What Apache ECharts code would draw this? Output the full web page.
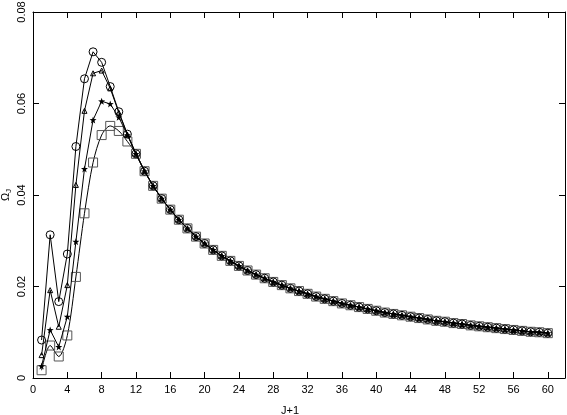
<!DOCTYPE html>
<html><head><meta charset="utf-8">
<script src="https://cdn.jsdelivr.net/npm/echarts@6/dist/echarts.min.js"></script>
<style>html,body{margin:0;padding:0;background:#fff}#c{width:567px;height:415px}</style>
</head><body><div id="c"></div>
<script>
// J+1 values 1..60
const xs = [];
for (let j = 1; j <= 60; j++) xs.push(j);
// leading part (J+1 = 1..11), read per series
const headCircle   = [0.0083, 0.0313, 0.0167, 0.0271, 0.0506, 0.0654, 0.0713, 0.0690, 0.0637, 0.0582, 0.0533];
const headTriangle = [0.0050, 0.0192, 0.0112, 0.0203, 0.0422, 0.0584, 0.0666, 0.0672, 0.0633, 0.0580, 0.0532];
const headStar     = [0.0026, 0.0105, 0.0068, 0.0134, 0.0298, 0.0457, 0.0564, 0.0605, 0.0599, 0.0570, 0.0531];
const headSquare   = [0.0017, 0.0071, 0.0047, 0.0093, 0.0221, 0.0360, 0.0471, 0.0531, 0.0551, 0.0540, 0.0517];
// common tail (J+1 = 12..60), all series coincide
const tail = [0.0490, 0.0452, 0.0420, 0.0392, 0.0368, 0.0346, 0.0327, 0.0309, 0.0294, 0.0280,
              0.0267, 0.0256, 0.0245, 0.0235, 0.0226, 0.0218, 0.0210, 0.0203, 0.0196, 0.0190,
              0.0184, 0.0178, 0.0173, 0.0168, 0.0163, 0.0159, 0.0155, 0.0151, 0.0147, 0.0143,
              0.0140, 0.0137, 0.0134, 0.0131, 0.0128, 0.0125, 0.0123, 0.0120, 0.0118, 0.0115,
              0.0113, 0.0111, 0.0109, 0.0107, 0.0105, 0.0103, 0.0101, 0.0100, 0.0098];

function pts(head) { const v = head.concat(tail); return xs.map((x, i) => [x, v[i]]); }

const STAR = 'path://M0,-10 L2.35,-3.24 L9.51,-3.09 L3.8,1.24 L5.88,8.09 L0,4 L-5.88,8.09 L-3.8,1.24 L-9.51,-3.09 L-2.35,-3.24 Z';
const font = 'Liberation Sans';

const chart = echarts.init(document.getElementById('c'), null, {renderer: 'canvas'});
const axisCommon = {
  axisLine: {show: true, onZero: false, lineStyle: {color: '#000', width: 1}},
  axisTick: {show: true, inside: true, length: 6, lineStyle: {color: '#000', width: 1}},
  splitLine: {show: false}
};
chart.setOption({
  animation: false,
  backgroundColor: '#fff',
  grid: {left: 33, right: 2, top: 12, bottom: 37, show: false, containLabel: false, outerBoundsMode: 'none'},
  xAxis: [
    Object.assign({type: 'value', min: 0, max: 62, interval: 4, position: 'bottom',
      name: 'J+1', nameLocation: 'middle', nameGap: 27, nameMoveOverlap: false,
      nameTextStyle: {fontFamily: font, fontSize: 11, color: '#000', padding: [0, 18, 0, 0]},
      axisLabel: {fontFamily: font, fontSize: 11, color: '#000', margin: 6, showMaxLabel: false}}, axisCommon),
    Object.assign({type: 'value', min: 0, max: 62, interval: 4, position: 'top',
      axisLabel: {show: false}}, axisCommon)
  ],
  yAxis: [
    Object.assign({type: 'value', min: 0, max: 0.08, interval: 0.02, position: 'left',
      name: '{o|Ω}{s|J}', nameLocation: 'middle', nameGap: 20, nameRotate: 90, nameMoveOverlap: false,
      nameTextStyle: {rich: {o: {fontFamily: font, fontSize: 11, color: '#000'},
                             s: {fontFamily: font, fontSize: 8, color: '#000', verticalAlign: 'bottom', padding: [6, 0, 0, 0]}}},
      axisLabel: {fontFamily: font, fontSize: 11, color: '#000', margin: 6, rotate: 90,
        formatter: v => v === 0 ? '0' : v.toFixed(2)}}, axisCommon),
    Object.assign({type: 'value', min: 0, max: 0.08, interval: 0.02, position: 'right',
      axisLabel: {show: false}}, axisCommon)
  ],
  series: [
    {type: 'line', data: pts(headSquare), smooth: 0.3, symbol: 'rect', symbolSize: 9,
     lineStyle: {color: '#000', width: 1}, itemStyle: {color: 'rgba(0,0,0,0)', borderColor: '#555', borderWidth: 1}, z: 2},
    {type: 'line', data: pts(headStar), symbol: STAR, symbolSize: 7,
     lineStyle: {color: '#000', width: 1}, itemStyle: {color: '#000', borderColor: '#000', borderWidth: 0}, z: 3},
    {type: 'line', data: pts(headTriangle), symbol: 'triangle', symbolSize: 5,
     lineStyle: {color: '#000', width: 1}, itemStyle: {color: 'rgba(0,0,0,0)', borderColor: '#000', borderWidth: 1}, z: 4},
    {type: 'line', data: pts(headCircle), symbol: 'circle', symbolSize: 8,
     lineStyle: {color: '#000', width: 1}, itemStyle: {color: 'rgba(0,0,0,0)', borderColor: '#000', borderWidth: 1}, z: 5}
  ]
});
</script></body></html>
